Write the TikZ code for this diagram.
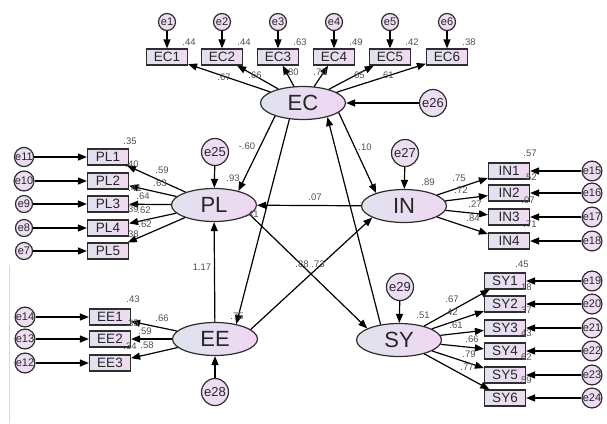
\documentclass[tikz,border=0pt]{standalone}
\usepackage{fontspec}
\setmainfont{Liberation Sans}
\usetikzlibrary{arrows.meta, shapes.geometric}
\definecolor{linegray}{HTML}{2E2E2E}
\definecolor{coefgray}{HTML}{505050}
\definecolor{latleft}{HTML}{DFE3EE}
\definecolor{latright}{HTML}{F0D6F3}
\definecolor{obsleft}{HTML}{E0E2EE}
\definecolor{obsright}{HTML}{F0DAF2}
\definecolor{errfill}{HTML}{EDDDF3}

\begin{document}
\begin{tikzpicture}[x=1pt, y=-1pt, line width=1.2pt, >={Triangle[length=9pt,width=7pt]},
    lat/.style={draw=linegray, ellipse, minimum width=85pt, minimum height=33pt, inner sep=0pt,
      left color=latleft, right color=latright, text=black!85, font=\fontsize{22}{22}\selectfont},
    obs/.style={draw=linegray, rectangle, minimum width=41pt, minimum height=16pt, inner sep=0pt,
      left color=obsleft, right color=obsright, text=black!85, font=\fontsize{13.5}{13.5}\selectfont},
    err/.style={draw=linegray, circle, minimum size=17pt, inner sep=0pt, fill=errfill,
      text=black!85, font=\fontsize{11}{11}\selectfont},
    bigerr/.style={err, minimum size=27pt, font=\fontsize{13}{13}\selectfont},
    coef/.style={text=coefgray, inner sep=0pt, font=\fontsize{9.5}{9.5}\selectfont}]
  \useasboundingbox (0,0) rectangle (607,423);
  \draw[black!15, line width=1pt] (9,265) -- (9,423);

  % Latent variables and their disturbances
  \node[lat] (EC) at (303,103) {EC};
  \node[lat] (PL) at (214,205) {PL};
  \node[lat] (IN) at (404,206) {IN};
  \node[lat] (EE) at (215,339) {EE};
  \node[lat] (SY) at (399,340) {SY};
  \node[bigerr] (e26) at (433,103) {e26};
  \node[bigerr] (e25) at (215,152) {e25};
  \node[bigerr] (e27) at (405,153) {e27};
  \node[bigerr] (e28) at (215,392) {e28};
  \node[bigerr] (e29) at (400,287) {e29};
  \draw[->] (e26) -- (EC);
  \draw[->] (e25) -- (PL);
  \draw[->] (e27) -- (IN);
  \draw[->] (e28) -- (EE);
  \draw[->] (e29) -- (SY);

  % EC indicators
  \foreach \i/\x/\r in {1/167/.44, 2/222/.44, 3/278/.63, 4/334/.49, 5/390/.42, 6/447/.38} {
    \node[obs] (EC\i) at (\x,57) {EC\i};
    \node[err] (e\i) at (\x,22) {e\i};
    \node[coef] at (\x+22,42) {\r};
    \draw[->] (e\i) -- (EC\i);
    \draw[->] (EC) -- (EC\i);
  }
  % PL indicators
  \foreach \i/\e/\y in {1/11/157, 2/10/181, 3/9/204, 4/8/228, 5/7/251} {
    \node[obs] (PL\i) at (108,\y) {PL\i};
    \node[err] (e\e) at (24,\y) {e\e};
    \draw[->] (e\e) -- (PL\i);
    \draw[->] (PL) -- (PL\i);
  }
  % EE indicators
  \foreach \i/\e/\y in {1/14/317, 2/13/339, 3/12/363} {
    \node[obs] (EE\i) at (110,\y) {EE\i};
    \node[err] (e\e) at (25,\y) {e\e};
    \draw[->] (e\e) -- (EE\i);
    \draw[->] (EE) -- (EE\i);
  }
  % IN indicators
  \foreach \i/\e/\y in {1/15/171, 2/16/193, 3/17/217, 4/18/241} {
    \node[obs] (IN\i) at (509,\y) {IN\i};
    \node[err] (e\e) at (592,\y) {e\e};
    \draw[->] (e\e) -- (IN\i);
    \draw[->] (IN) -- (IN\i);
  }
  % SY indicators
  \foreach \i/\e/\y in {1/19/281, 2/20/304, 3/21/328, 4/22/351, 5/23/375, 6/24/398} {
    \node[obs] (SY\i) at (505,\y) {SY\i};
    \node[err] (e\e) at (592,\y) {e\e};
    \draw[->] (e\e) -- (SY\i);
    \draw[->] (SY) -- (SY\i);
  }

  % Structural paths
  \draw[->] (EC.205) -- (PL.30);
  \draw[->] (EC.345) -- (IN.155);
  \draw[->] (EC.230) -- (EE.35);
  \draw[->] (SY.140) -- (EC.330);
  \draw[->] (IN) -- (PL);
  \draw[->] (EE) -- (PL);
  \draw[->] (PL.345) -- (SY.160);
  \draw[->] (EE.15) -- (IN.200);

  % Estimates
  \foreach \x/\y/\t in {224/77/.67, 255/75/.66, 292/72/.80, 320/72/.70, 358/75/.65, 387/75/.61,
      130/141/.35, 132/164/.40, 135/188/.41, 132/209/.39, 132/234/.38,
      162/170/.59, 160/183/.63, 143/196/.64, 144/210/.62, 145/224/.62,
      133/299/.43, 132/323/.35, 130/346/.34, 162/318/.66, 145/331/.59, 147/345/.58,
      530/153/.57, 530/177/.52, 528/200/.07, 530/224/.71,
      459/178/.75, 461/190/.72, 475/204/.27, 473/218/.84,
      522/264/.45, 525/287/.18, 525/310/.37, 525/333/.43, 525/357/.62, 525/380/.59,
      452/299/.67, 451/312/.42, 456/325/.61, 472/339/.66, 469/354/.79, 467/367/.77,
      247/146/-.60, 233/178/.93, 365/147/.10, 428/182/.89, 315/197/.07, 252/214/.41,
      202/267/1.17, 302/264/.88, 318/264/.73, 237/316/.75, 423/315/.51}
    \node[coef] at (\x,\y) {\t};
\end{tikzpicture}
\end{document}
